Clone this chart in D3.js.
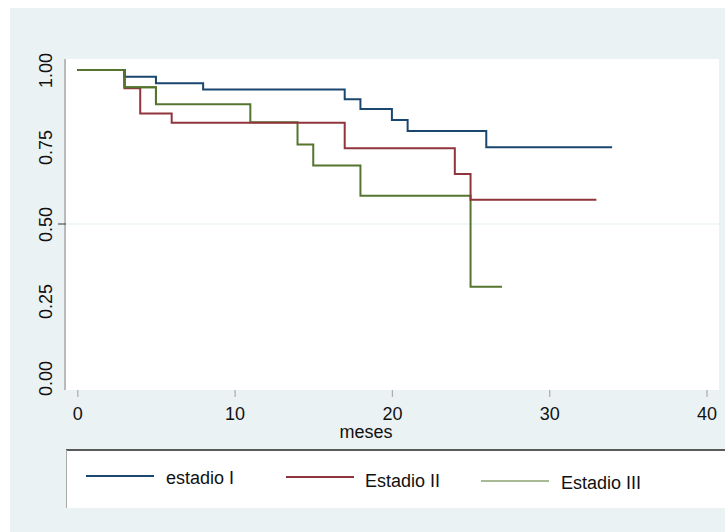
<!DOCTYPE html>
<html><head><meta charset="utf-8">
<script src="https://cdn.jsdelivr.net/npm/d3@7"></script>
<style>html,body{margin:0;padding:0;background:#fff}svg{display:block}text{font-family:"Liberation Sans",Arial,sans-serif;fill:#111}</style>
</head><body>
<script>
const seriesNames = ["estadio I", "Estadio II", "Estadio III"];
const timesI   = [0, 3, 5, 8, 17, 18, 20, 21, 26, 34];
const survI    = [1, 0.978, 0.957, 0.937, 0.905, 0.873, 0.838, 0.802, 0.749, 0.749];
const timesII  = [0, 3, 4, 6, 17, 24, 25, 33];
const survII   = [1, 0.941, 0.859, 0.829, 0.746, 0.662, 0.579, 0.579];
const timesIII = [0, 3, 5, 11, 14, 15, 18, 25, 27];
const survIII  = [1, 0.944, 0.889, 0.830, 0.758, 0.690, 0.592, 0.296, 0.296];
const xTicks = [0, 10, 20, 30, 40];
const yTicks = [0, 0.25, 0.5, 0.75, 1];
const xLabel = "meses";

const W = 725, H = 532;
const colors = ["#1a476f", "#90353b", "#55752f"];
const svg = d3.select("body").append("svg").attr("width", W).attr("height", H);
svg.append("rect").attr("width", W).attr("height", H).attr("fill", "#fff");
svg.append("rect").attr("x", 10).attr("y", 8).attr("width", W - 10).attr("height", H - 8).attr("fill", "#eaf2f3");

const pl = 66, pt = 59, pr = 719, pb = 390;
svg.append("rect").attr("x", pl).attr("y", pt).attr("width", pr - pl).attr("height", pb - pt).attr("fill", "#fff");

const x = d3.scaleLinear().domain([0, 40]).range([77.3, 706.5]);
const y = d3.scaleLinear().domain([0, 1]).range([378, 70]);

// gridline at 0.50
svg.append("line").attr("x1", pl).attr("x2", pr).attr("y1", y(0.5)).attr("y2", y(0.5))
  .attr("stroke", "#e4eef0").attr("stroke-width", 1.2);

// x axis
const xa = svg.append("g").attr("transform", `translate(0,${pb})`)
  .call(d3.axisBottom(x).tickValues(xTicks).tickSize(7).tickPadding(10).tickFormat(d3.format("d")));
xa.select(".domain").remove();
xa.selectAll(".tick line").attr("stroke", "#b0b0b0").attr("stroke-width", 1.3);
xa.selectAll(".tick text").attr("font-size", 18).attr("fill", "#111").attr("font-family", "Liberation Sans, Arial, sans-serif");

// y axis
const ya = svg.append("g").attr("transform", `translate(${pl},0)`)
  .call(d3.axisLeft(y).tickValues(yTicks).tickSize(0).tickFormat(d3.format(".2f")));
ya.select(".domain").remove();
ya.selectAll(".tick text").attr("font-size", 18).attr("fill", "#111")
  .attr("font-family", "Liberation Sans, Arial, sans-serif")
  .attr("text-anchor", "middle").attr("x", null).attr("dy", null)
  .attr("transform", "translate(-14,0) rotate(-90)");
svg.append("line").attr("x1", pl - 1).attr("x2", pl - 1).attr("y1", pt).attr("y2", pb)
  .attr("stroke", "#a8a8a8").attr("stroke-width", 1.5);
svg.append("line").attr("x1", pl - 8).attr("x2", pl).attr("y1", y(0.5)).attr("y2", y(0.5))
  .attr("stroke", "#555").attr("stroke-width", 1.2);

svg.append("text").attr("x", 366).attr("y", 438).attr("text-anchor", "middle")
  .attr("font-size", 18).text(xLabel);

// survival curves
const line = d3.line().x(d => x(d[0])).y(d => y(d[1])).curve(d3.curveStepAfter);
const data = [
  d3.zip(timesI, survI),
  d3.zip(timesII, survII),
  d3.zip(timesIII, survIII)
];
// draw green first, then red, then blue as in the reference overlap order
[2, 1, 0].forEach(i => {
  svg.append("path").datum(data[i]).attr("d", line).attr("fill", "none")
    .attr("stroke", colors[i]).attr("stroke-width", 2);
});
// green on top where overlapping in early segment
svg.append("path").datum(data[2].slice(0, 3)).attr("d", line).attr("fill", "none")
  .attr("stroke", colors[2]).attr("stroke-width", 2);

// legend
svg.append("rect").attr("x", pl).attr("y", 450).attr("width", W - pl).attr("height", 58).attr("fill", "#fff");
svg.append("line").attr("x1", pl).attr("x2", W).attr("y1", 450).attr("y2", 450).attr("stroke", "#5a5a5a").attr("stroke-width", 2);
svg.append("line").attr("x1", pl + 0.5).attr("x2", pl + 0.5).attr("y1", 450).attr("y2", 508).attr("stroke", "#aaa").attr("stroke-width", 1);
const leg = [
  {x1: 86, x2: 154, ly: 476, tx: 166, ty: 484, w: 2},
  {x1: 286, x2: 354, ly: 477, tx: 365, ty: 487, w: 2},
  {x1: 481, x2: 549, ly: 481, tx: 561, ty: 489, w: 1.2}
];
leg.forEach((l, i) => {
  svg.append("line").attr("x1", l.x1).attr("x2", l.x2).attr("y1", l.ly).attr("y2", l.ly)
    .attr("stroke", colors[i]).attr("stroke-width", l.w);
  svg.append("text").attr("x", l.tx).attr("y", l.ty).attr("font-size", 18).text(seriesNames[i]);
});
</script>
</body></html>
